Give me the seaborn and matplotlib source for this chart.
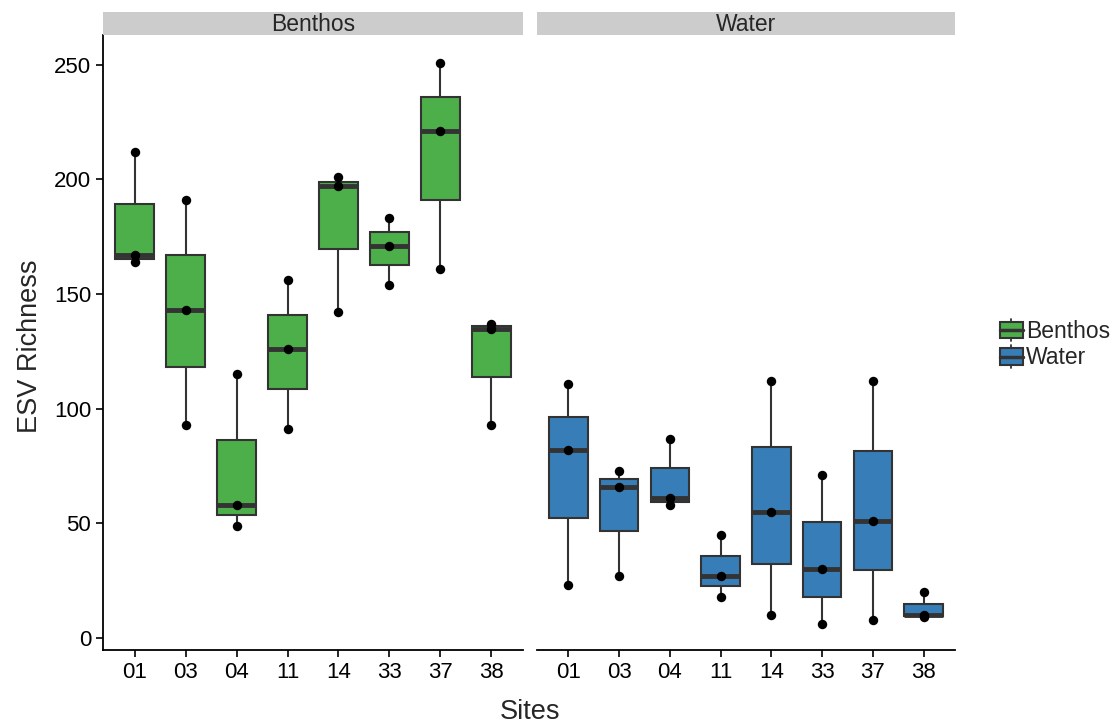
import numpy as np
import pandas as pd
import seaborn as sns
import matplotlib
matplotlib.use("Agg")
import matplotlib.pyplot as plt
from matplotlib.patches import Patch, Rectangle
from matplotlib.lines import Line2D
from matplotlib.legend_handler import HandlerBase

# replicate values per site (min, middle, max)
sites = ["01", "03", "04", "11", "14", "33", "37", "38"]
benthos = {
    "01": [164, 167, 212],
    "03": [93, 143, 191],
    "04": [49, 58, 115],
    "11": [91, 126, 156],
    "14": [142, 197, 201],
    "33": [154, 171, 183],
    "37": [161, 221, 251],
    "38": [93, 135, 137],
}
water = {
    "01": [23, 82, 111],
    "03": [27, 66, 73],
    "04": [58, 61, 87],
    "11": [18, 27, 45],
    "14": [10, 55, 112],
    "33": [6, 30, 71],
    "37": [8, 51, 112],
    "38": [9, 10, 20],
}
panels = ["Benthos", "Water"]
colors = {"Benthos": "#4DAF4A", "Water": "#377EB8"}

rows = []
for panel, d in zip(panels, [benthos, water]):
    for s in sites:
        for v in d[s]:
            rows.append((panel, s, v))
df = pd.DataFrame(rows, columns=["Type", "Site", "Richness"])

sns.set_style("ticks")
plt.rcParams["font.family"] = ["Liberation Sans", "DejaVu Sans"]

W, H = 1119, 728
edge = "#333333"


class BoxKey(HandlerBase):
    # ggplot-like boxplot legend key: box, median line, whisker stubs
    def create_artists(self, legend, orig, xd, yd, width, height, fontsize, trans):
        fc = orig.get_facecolor()
        lo, hi = -yd + 0.14 * height, -yd + 0.86 * height
        box = Rectangle((-xd, lo), width, hi - lo, facecolor=fc,
                        edgecolor=edge, linewidth=1.5, transform=trans)
        med = Line2D([-xd, -xd + width], [-yd + height / 2] * 2, color=edge,
                     linewidth=2.5, transform=trans)
        top = Line2D([-xd + width / 2] * 2, [hi, -yd + height],
                     color=edge, linewidth=1.3, transform=trans)
        bot = Line2D([-xd + width / 2] * 2, [-yd, lo],
                     color=edge, linewidth=1.3, transform=trans)
        return [top, bot, box, med]


fig = plt.figure(figsize=(11.19, 7.28), dpi=100)

for i, panel in enumerate(panels):
    x0 = [103, 537][i]
    x1 = [523, 955][i]
    ax = fig.add_axes([x0 / W, 1 - 650 / H, (x1 - x0) / W, (650 - 35) / H])
    sub = df[df.Type == panel]
    sns.boxplot(data=sub, x="Site", y="Richness", order=sites, ax=ax,
                color=colors[panel], saturation=1, width=0.76, whis=1.5,
                linecolor=edge, linewidth=1.5, fliersize=0, showcaps=False,
                medianprops=dict(color=edge, linewidth=3.5))
    sns.stripplot(data=sub, x="Site", y="Richness", order=sites, ax=ax,
                  jitter=False, color="black", size=6.8, zorder=5)
    ax.set_xlim(-0.62, 7.62)
    ax.set_ylim(-5.2, 263)
    ax.set_xlabel("")
    ax.set_ylabel("")
    ax.set_yticks([0, 50, 100, 150, 200, 250])
    ax.tick_params(axis="both", labelsize=16, length=5, width=1.2,
                   color="black", labelcolor="black")
    for sp in ["top", "right"]:
        ax.spines[sp].set_visible(False)
    for sp in ["left", "bottom"]:
        ax.spines[sp].set_linewidth(1.3)
        ax.spines[sp].set_color("black")
    if i == 1:
        ax.spines["left"].set_visible(False)
        ax.tick_params(axis="y", left=False, labelleft=False)
    # facet strip
    sax = fig.add_axes([x0 / W, 1 - 35 / H, (x1 - x0) / W, 23 / H])
    sax.set_facecolor("#CCCCCC")
    sax.set_xticks([])
    sax.set_yticks([])
    for sp in sax.spines.values():
        sp.set_visible(False)
    sax.text(0.5, 0.45, panel, ha="center", va="center", fontsize=16.5,
             transform=sax.transAxes)

fig.text(530 / W, 1 - 712 / H, "Sites", ha="center", va="center", fontsize=19.5)
fig.text(30 / W, 1 - 346 / H, "ESV Richness", ha="center", va="center",
         rotation=90, fontsize=19.5)

handles = [Patch(facecolor=colors[p], edgecolor=edge, label=p) for p in panels]
fig.legend(handles=handles, loc="center left", bbox_to_anchor=(1000 / W, 1 - 344 / H),
           frameon=False, fontsize=16.5, handlelength=1.0, handleheight=1.15,
           handletextpad=0.12, labelspacing=0.1, borderaxespad=0, borderpad=0,
           handler_map={Patch: BoxKey()})

fig.savefig("out.png", dpi=100)
